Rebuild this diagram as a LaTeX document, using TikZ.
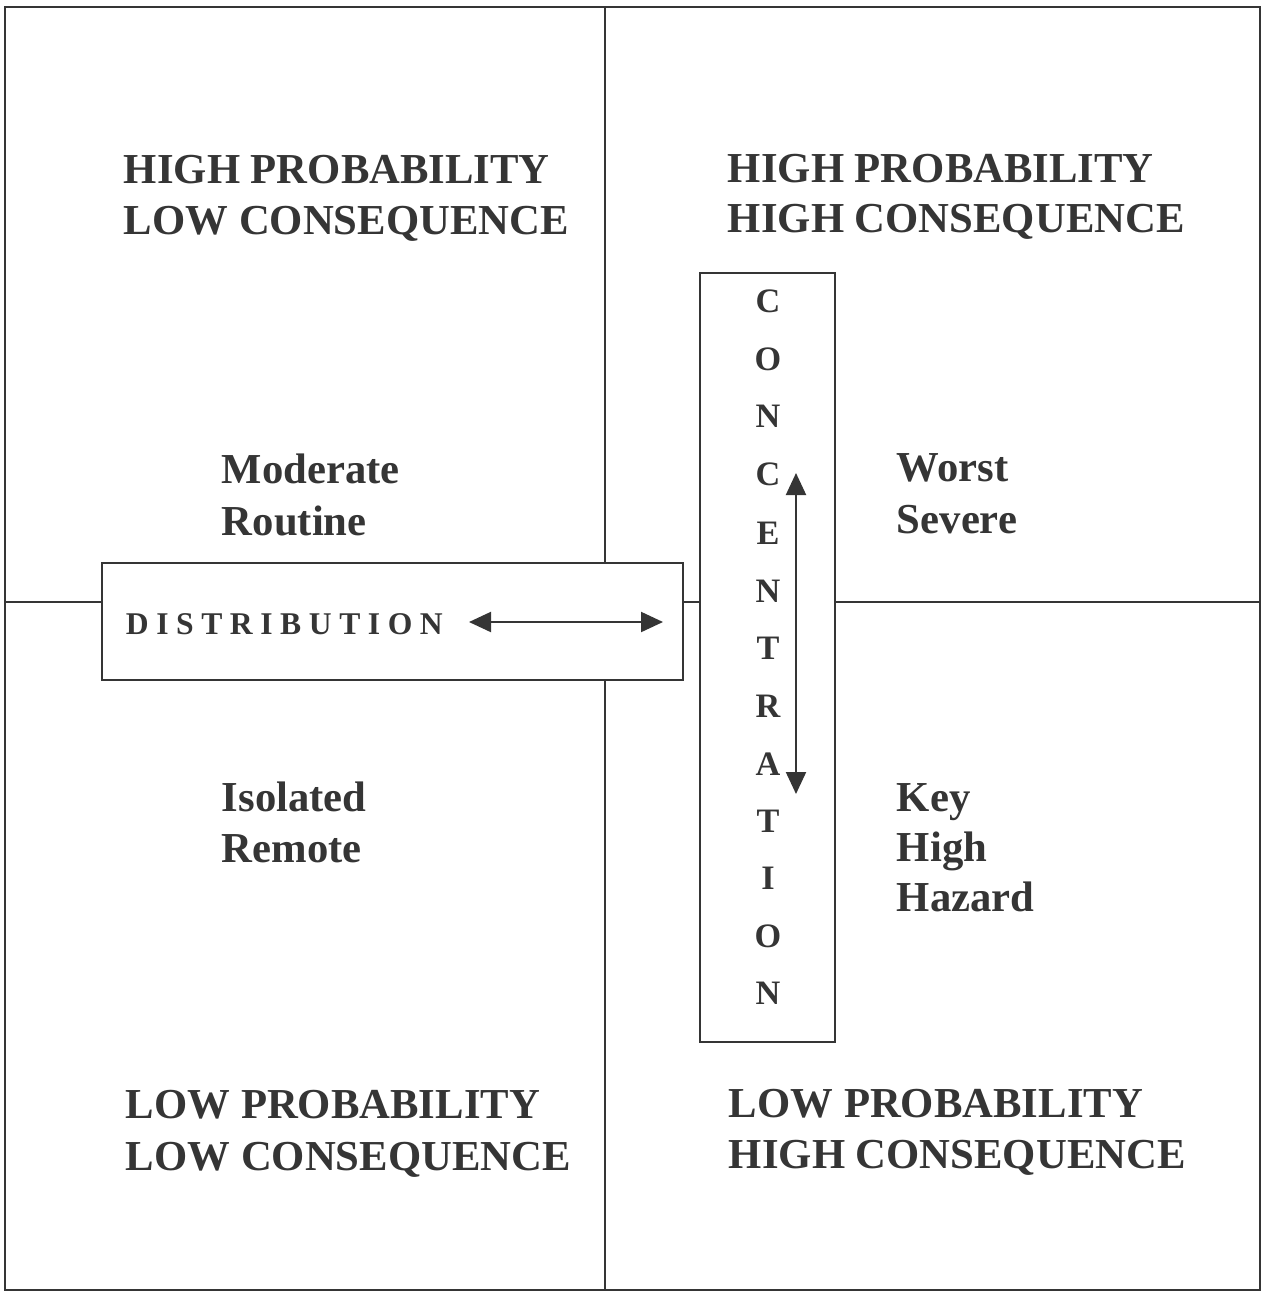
\documentclass[tikz,border=0pt]{standalone}
\usepackage{fontspec}
\setmainfont{Liberation Serif}
\usetikzlibrary{arrows.meta}
\definecolor{ink}{HTML}{353535}
\begin{document}
\begin{tikzpicture}[x=0.02cm,y=-0.02cm,
  line width=1.1pt, draw=ink,
  lab/.style={anchor=base west, inner sep=0pt, text=ink, font=\fontsize{24.3}{29}\selectfont\bfseries},
  cletter/.style={anchor=base, inner sep=0pt, text=ink, font=\fontsize{19.5}{22}\selectfont\bfseries},
  boxnode/.style={draw=ink, line width=1.1pt, rectangle, inner sep=0pt},
  dblarrow/.style={draw=ink, line width=1.2pt, {Triangle[length=0.44cm,width=0.4cm]}-{Triangle[length=0.44cm,width=0.4cm]}},
]
\useasboundingbox (0,0) rectangle (1268,1292);
% frame corners
\coordinate (tl) at (5,7);
\coordinate (br) at (1260,1290);
\coordinate (topmid) at (605,7);
\coordinate (botmid) at (605,1290);
\coordinate (leftmid) at (5,602);
\coordinate (rightmid) at (1260,602);
\draw (tl) rectangle (br);
% boxes
\node[boxnode, minimum width=11.62cm, minimum height=2.34cm] (dist) at (392.5,621.5) {};
\node[boxnode, minimum width=2.7cm, minimum height=15.38cm] (conc) at (767.5,657.5) {};
% dividers
\draw (topmid) -- (topmid |- dist.north);
\draw (botmid |- dist.south) -- (botmid);
\draw (leftmid) -- (leftmid -| dist.west);
\draw (dist.east |- leftmid) -- (conc.west |- leftmid);
\draw (conc.east |- rightmid) -- (rightmid);
% quadrant labels
\node[lab] (tl1) at (123,183) {HIGH PROBABILITY};
\node[lab] (tl2) at (123,234) {LOW CONSEQUENCE};
\node[lab] (tr1) at (727,182) {HIGH PROBABILITY};
\node[lab] (tr2) at (727,232) {HIGH CONSEQUENCE};
\node[lab] (bl1) at (125,1118) {LOW PROBABILITY};
\node[lab] (bl2) at (125,1170) {LOW CONSEQUENCE};
\node[lab] (br1) at (728,1117) {LOW PROBABILITY};
\node[lab] (br2) at (728,1168) {HIGH CONSEQUENCE};
% inner labels
\node[lab] (m1) at (221,483) {Moderate};
\node[lab] (m2) at (221,535) {Routine};
\node[lab] (w1) at (896,481) {Worst};
\node[lab] (w2) at (896,533) {Severe};
\node[lab] (i1) at (221,811) {Isolated};
\node[lab] (i2) at (221,862) {Remote};
\node[lab] (k1) at (896,811) {Key};
\node[lab] (k2) at (896,861) {High};
\node[lab] (k3) at (896,911) {Hazard};
% distribution text
\node[anchor=base west, inner sep=0pt, text=ink, font=\fontsize{18}{20}\selectfont\bfseries] (disttext) at (125,634)
  {D\hskip4.3pt I\hskip4.3pt S\hskip4.3pt T\hskip4.3pt R\hskip4.3pt I\hskip4.3pt B\hskip4.3pt U\hskip4.3pt T\hskip4.3pt I\hskip4.3pt O\hskip4.3pt N};
% concentration letters
\node[cletter] (c1) at (768,312) {C};
\node[cletter] (c2) at (768,370) {O};
\node[cletter] (c3) at (768,427) {N};
\node[cletter] (c4) at (768,485) {C};
\node[cletter] (c5) at (768,544) {E};
\node[cletter] (c6) at (768,602) {N};
\node[cletter] (c7) at (768,659) {T};
\node[cletter] (c8) at (768,717) {R};
\node[cletter] (c9) at (768,775) {A};
\node[cletter] (c10) at (768,832) {T};
\node[cletter] (c11) at (768,889) {I};
\node[cletter] (c12) at (768,947) {O};
\node[cletter] (c13) at (768,1004) {N};
% arrows
\coordinate (ha) at (469,622);
\coordinate (hb) at (663,622);
\draw[dblarrow] (ha) -- (hb);
\coordinate (va) at (796,473);
\coordinate (vb) at (796,794);
\draw[dblarrow] (va) -- (vb);
\end{tikzpicture}
\end{document}
